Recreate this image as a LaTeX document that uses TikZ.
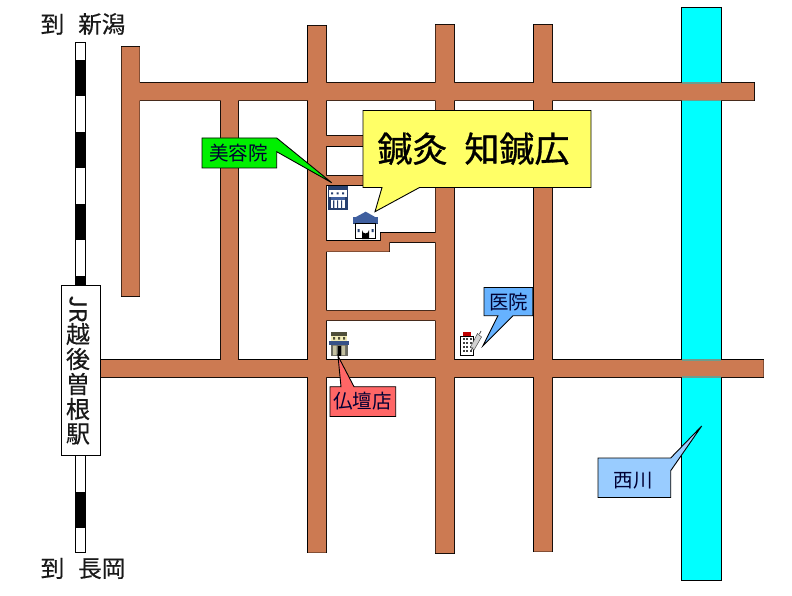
\documentclass[tikz,border=0pt]{standalone}
\usepackage{fontspec}
\setmainfont{Noto Sans CJK JP}
\newfontfamily\titlefont[FakeBold=0.9]{Noto Sans CJK JP}
\newfontfamily\midfont[FakeBold=0.35]{Noto Sans CJK JP}
\definecolor{road}{HTML}{CC7A52}
\definecolor{river}{HTML}{00FFFF}
\definecolor{navy}{HTML}{27406F}
\definecolor{midblue}{HTML}{3F5F9F}
\definecolor{olive}{HTML}{4F4F3A}
\definecolor{cream}{HTML}{F2EDB8}
\definecolor{crossedge}{HTML}{6F9C8C}
\definecolor{bubblegreen}{HTML}{00F000}
\definecolor{bubbleyellow}{HTML}{FFFF66}
\definecolor{bubbleblue}{HTML}{66B2FF}
\definecolor{bubblered}{HTML}{FF6666}
\definecolor{bubblepale}{HTML}{99CCFF}
\tikzset{
  outlined/.style={draw=black,line width=1.1pt,line join=miter},
  bubble/.style={draw=black,line width=0.9pt,line join=miter},
  label/.style={inner sep=0pt,font=\fontsize{19.5}{20}\selectfont,text=black!80!blue},
  bigtext/.style={inner sep=0pt,font=\midfont\fontsize{23.5}{24}\selectfont,text=black!90},
  stationchar/.style={inner sep=0pt,font=\midfont\fontsize{24}{24}\selectfont,text=black!90},
}
\newcommand{\roadpaths}{
  (121.5,47) rectangle (139.5,296)
  (121.5,83) rectangle (754,100.5)
  (220.8,90) rectangle (238,368)
  (308,26) rectangle (326,552.5)
  (435.5,25) rectangle (454,553)
  (534,25) rectangle (552,551.5)
  (101,360) rectangle (763.5,377)
  (320,136) rectangle (440,146)
  (320,176) rectangle (440,185)
  (320,310.5) rectangle (440,320.3)
  (320,241) rectangle (381,251.7)
  (380.8,233) rectangle (440,242)
  (380.8,241) rectangle (389.3,251.7)
}
\begin{document}
\begin{tikzpicture}[x=1pt,y=-1pt]
\useasboundingbox (0,0) rectangle (792,596);
\fill[white] (0,0) rectangle (792,596);

% river
\draw[outlined,fill=river] (681.5,7.5) rectangle (721.5,580.5);

% railway
\draw[draw=black,line width=0.8pt,fill=white] (75.5,42) rectangle (85.5,552);
\foreach \a/\b in {60/96,132/168,204/240,276/290,492/528}
  \fill[black] (75,\a) rectangle (86,\b);

% roads: black outline pass, then fill pass merges the crossings
\path[outlined] \roadpaths;
\fill[road] \roadpaths;
% the river shows faintly through the road edge
\foreach \y in {83,100.5,360,377}
  \draw[color=crossedge,line width=1.1pt] (682,\y) -- (721,\y);

% station
\node[draw=black,line width=0.9pt,fill=white,minimum width=39.5pt,minimum height=170pt,inner sep=0pt] (station) at (80.7,370) {};
\node[stationchar,rotate=-90,font=\midfont\fontsize{23}{23}\selectfont] (jr) at (78,309) {JR};
\node[stationchar] (c1) at (78,334) {越};
\node[stationchar] (c2) at (78,359) {後};
\node[stationchar] (c3) at (78,384) {曽};
\node[stationchar] (c4) at (78,409) {根};
\node[stationchar] (c5) at (78,434) {駅};

% destination labels
\node[bigtext,anchor=center] (north) at (83,24) {到\hspace{14pt}新潟};
\node[bigtext,anchor=center] (south) at (83,568.5) {到\hspace{14pt}長岡};

% beauty salon icon
\fill[navy] (328,186) rectangle (347.5,190.5);
\fill[white] (328.8,190.5) rectangle (346.7,197);
\draw[navy,line width=0.7pt] (328.4,190) -- (328.4,198) (347,190) -- (347,198);
\fill[navy] (331,192.5) rectangle (333,194.5) (336.5,192.5) rectangle (338.5,194.5) (342,192.5) rectangle (344,194.5);
\fill[navy] (328,197) rectangle (347.5,209.8);
\fill[white] (330.5,200.5) rectangle (345,208);
\fill[midblue] (330.5,197.5) rectangle (345,200);
\fill[navy] (333.2,200.5) rectangle (334.4,208) (337,200.5) rectangle (338.2,208) (341,200.5) rectangle (342.2,208);

% clinic (house) icon
\fill[midblue] (365.7,211.7) -- (376,217.5) -- (355,217.5) -- cycle;
\fill[midblue] (353.3,217) rectangle (377.5,223);
\draw[navy,line width=0.6pt] (353.3,223) -- (377.5,223);
\draw[black,line width=0.9pt,fill=white] (355,223) rectangle (375.7,238.8);
\fill[black] (362,239) -- (362,230) arc[start angle=180,end angle=0,radius=3.5] -- (369,239) -- cycle;
\fill[navy] (357.5,229) rectangle (359.5,232) (371.5,229) rectangle (373.5,232);

% butsudan shop icon
\fill[olive] (331,332) rectangle (347,335.5);
\fill[cream] (331,335.5) rectangle (347,341);
\fill[olive] (333,337) rectangle (335,339.5) (338,337) rectangle (340,339.5) (343,337) rectangle (345,339.5);
\fill[midblue!85!black] (329,341) rectangle (349,345);
\fill[gray!55!olive] (330.5,345) rectangle (347.5,356);
\fill[cream!60!gray] (333,345.5) rectangle (336.5,355) (341.5,345.5) rectangle (345,355);
\fill[black] (337.5,345.5) rectangle (340.5,356);

% hospital icon
\fill[red!75!black] (463,331.5) rectangle (471,335.5);
\draw[black,line width=0.6pt,fill=white] (460.5,335.8) rectangle (473.5,355.5);
\foreach \i in {0,1,2} \foreach \j in {0,1,2,3}
  \fill[black!75] (462.5+3.6*\i,338+4*\j) rectangle (464.5+3.6*\i,340.4+4*\j);
\fill[gray!35,draw=black!70,line width=0.5pt] (477.5,333.5) -- (481.5,337) -- (474,350) -- (470.5,347) -- cycle;
\draw[black!70,line width=0.8pt] (470.5,351) -- (473,347.5) (481,331) -- (479.5,334);

% callouts
\draw[bubble,fill=bubblegreen] (202,138) -- (276.7,138) -- (331.7,182.7) -- (276.7,151.7) -- (276.7,168) -- (202,168) -- cycle;
\node[label] (beauty) at (238.5,153.5) {美容院};

\draw[bubble,fill=bubbleyellow] (363,110.5) -- (591,110.5) -- (591,187.5) -- (419.5,187.5) -- (375,211.7) -- (382,187.5) -- (363,187.5) -- cycle;
\node[inner sep=0pt,font=\titlefont\fontsize{35}{35}\selectfont,text=black] (title) at (473.5,149) {鍼灸\hspace{17pt}知鍼広};

\draw[bubble,fill=bubbleblue] (484,287.5) -- (532.7,287.5) -- (532.7,315.7) -- (513,315.7) -- (483,345.7) -- (498,315.7) -- (484,315.7) -- cycle;
\node[label] (hospital) at (508.5,302) {医院};

\draw[bubble,fill=bubblered] (330,386.7) -- (341,386.7) -- (338,356) -- (354,386.7) -- (395.7,386.7) -- (395.7,416.5) -- (330,416.5) -- cycle;
\node[label] (butsudan) at (362.5,401.5) {仏壇店};

\draw[bubble,fill=bubblepale] (598,458) -- (670.7,458) -- (701.7,426) -- (670.7,470.7) -- (670.7,497.5) -- (598,497.5) -- cycle;
\node[label] (nishi) at (633,480.5) {西川};
\end{tikzpicture}
\end{document}
